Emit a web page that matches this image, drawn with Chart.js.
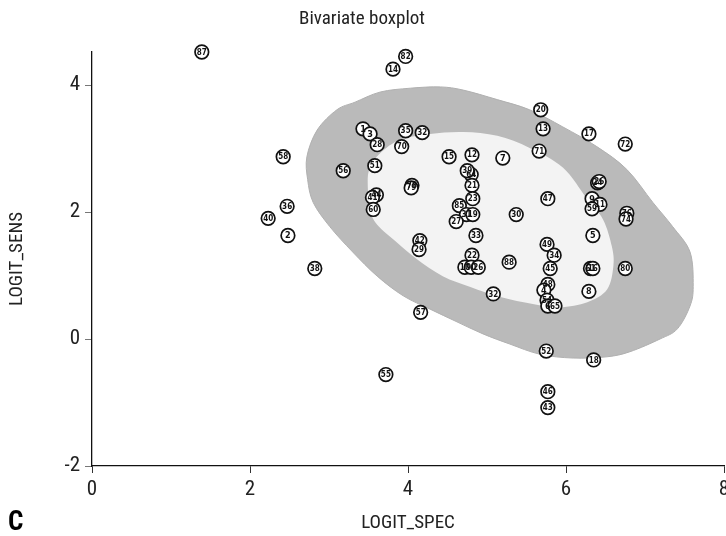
<!DOCTYPE html>
<html><head><meta charset="utf-8">
<script src="https://cdn.jsdelivr.net/npm/chart.js@4"></script>
<style>html,body{margin:0;padding:0;overflow:hidden;background:#fff;width:726px;height:536px}canvas{display:block}</style>
</head><body><canvas id="c" width="740" height="536"></canvas>
<script>
// Observation ids (marker labels)
const pointIds = ["87","82","14","1","3","35","32","28","70","58","56","51","15","12","7","20","13","71","17","72","64","39","21","78","79","44","41","60","23","47","24","26","9","11","59","76","74","85","31","19","27","30","36","40","2","38","42","29","33","5","49","34","22","10","90","26","88","45","61","16","80","48","4","8","32","54","6","65","57","52","18","55","46","43"];
// LOGIT_SPEC (x)
const logitSpec = [1.39,3.97,3.81,3.43,3.52,3.97,4.18,3.61,3.92,2.42,3.18,3.58,4.52,4.81,5.20,5.68,5.71,5.66,6.29,6.75,4.80,4.75,4.81,4.05,4.04,3.60,3.55,3.56,4.82,5.77,6.40,6.42,6.33,6.43,6.33,6.77,6.76,4.65,4.74,4.82,4.61,5.37,2.47,2.23,2.48,2.82,4.15,4.14,4.86,6.34,5.76,5.85,4.81,4.72,4.80,4.89,5.28,5.80,6.31,6.34,6.75,5.77,5.72,6.29,5.08,5.76,5.77,5.86,4.16,5.75,6.35,3.72,5.77,5.77];
// LOGIT_SENS (y)
const logitSens = [4.52,4.45,4.25,3.31,3.23,3.28,3.25,3.06,3.03,2.87,2.65,2.73,2.87,2.90,2.85,3.61,3.31,2.96,3.23,3.07,2.59,2.65,2.42,2.42,2.38,2.27,2.23,2.04,2.21,2.21,2.46,2.48,2.21,2.12,2.05,1.98,1.89,2.10,1.96,1.96,1.85,1.96,2.09,1.90,1.63,1.11,1.55,1.41,1.63,1.63,1.49,1.32,1.32,1.13,1.13,1.13,1.21,1.11,1.11,1.11,1.11,0.86,0.77,0.75,0.71,0.61,0.52,0.52,0.42,-0.19,-0.33,-0.56,-0.83,-1.08];
// Outer (fence) contour of the bivariate boxplot
const outerSpec = [2.72,2.73,2.80,3.01,3.30,3.61,3.94,4.28,4.62,4.95,5.29,5.67,6.09,6.52,6.81,7.19,7.41,7.57,7.61,7.57,7.35,7.10,6.77,6.39,5.96,5.54,5.13,4.70,4.41,4.03,3.65,3.33,3.10,2.85];
const outerSens = [2.87,2.51,2.15,1.77,1.37,0.99,0.68,0.47,0.27,0.08,-0.08,-0.24,-0.30,-0.28,-0.20,0.00,0.16,0.52,0.83,1.37,1.77,2.15,2.67,3.03,3.34,3.61,3.77,3.92,3.97,3.95,3.89,3.73,3.61,3.29];
// Inner (hinge) contour
const innerSpec = [3.49,3.52,3.61,3.86,4.11,4.44,4.79,5.17,5.58,5.92,6.27,6.52,6.60,6.58,6.47,6.27,5.96,5.54,5.13,4.70,4.28,3.90,3.65,3.52];
const innerSens = [2.46,2.04,1.80,1.52,1.26,0.99,0.82,0.66,0.55,0.50,0.58,0.78,1.15,1.46,1.88,2.20,2.70,3.01,3.20,3.26,3.23,3.14,2.93,2.70];
const xTicks = [0,2,4,6,8];
const yTicks = [-2,0,2,4];

const FONT = "'Liberation Sans Narrow','Roboto Condensed','DejaVu Sans Condensed',sans-serif";

function smoothClosed(ctx, pts){
  const n = pts.length;
  ctx.beginPath();
  ctx.moveTo(pts[0][0], pts[0][1]);
  for(let i=0;i<n;i++){
    const p0=pts[(i-1+n)%n], p1=pts[i], p2=pts[(i+1)%n], p3=pts[(i+2)%n];
    const c1x=p1[0]+(p2[0]-p0[0])/6, c1y=p1[1]+(p2[1]-p0[1])/6;
    const c2x=p2[0]-(p3[0]-p1[0])/6, c2y=p2[1]-(p3[1]-p1[1])/6;
    ctx.bezierCurveTo(c1x,c1y,c2x,c2y,p2[0],p2[1]);
  }
  ctx.closePath();
}

const regionPlugin = {
  id:'regions',
  beforeDatasetsDraw(chart){
    const {ctx, scales:{x,y}} = chart;
    const toPx = (xs,ys)=>xs.map((v,i)=>[x.getPixelForValue(v), y.getPixelForValue(ys[i])]);
    ctx.save();
    smoothClosed(ctx, toPx(outerSpec, outerSens));
    ctx.fillStyle='#bababa'; ctx.fill();
    ctx.strokeStyle='#b0b0b0'; ctx.lineWidth=1; ctx.stroke();
    smoothClosed(ctx, toPx(innerSpec, innerSens));
    ctx.fillStyle='#f3f3f3'; ctx.fill();
    ctx.restore();
  }
};

const labelPlugin = {
  id:'ptlabels',
  afterDatasetsDraw(chart){
    const {ctx} = chart;
    const meta = chart.getDatasetMeta(0);
    ctx.save();
    ctx.fillStyle='#111';
    ctx.textAlign='center'; ctx.textBaseline='middle';
    meta.data.forEach((el,i)=>{
      const t = pointIds[i];
      ctx.font = (t.length>1?'bold 8px ':'bold 9px ')+"'DejaVu Sans Condensed',sans-serif";
      ctx.fillText(t, el.x, el.y+0.5);
    });
    // panel letter
    ctx.font = "bold 27px "+FONT;
    ctx.textAlign='left'; ctx.textBaseline='middle';
    ctx.fillStyle='#000';
    ctx.fillText('C', 8, 523);
    ctx.restore();
  }
};

new Chart(document.getElementById('c'), {
  type:'scatter',
  data:{datasets:[{
    data: logitSpec.map((v,i)=>({x:v, y:logitSens[i]})),
    clip:false,
    pointRadius:6.8,
    pointHoverRadius:6.8,
    pointBackgroundColor:'#ffffff',
    pointBorderColor:'#111111',
    pointBorderWidth:1.7
  }]},
  options:{
    responsive:false,
    animation:false,
    events:[],
    layout:{padding:{left:0,right:16,top:0,bottom:0}},
    plugins:{
      legend:{display:false},
      tooltip:{enabled:false},
      title:{display:true,text:'Bivariate boxplot',color:'#222',
        font:{family:FONT,size:19,weight:'normal',lineHeight:1.2},
        padding:{top:8,bottom:21.2}}
    },
    scales:{
      x:{type:'linear',min:0,max:8,
        afterBuildTicks(s){ s.ticks = xTicks.map(v=>({value:v})); },
        afterFit(s){ s.height = 70; },
        border:{color:'#111',width:1.3},
        grid:{drawOnChartArea:false,tickLength:7,color:'#333',lineWidth:1},
        ticks:{color:'#222',padding:4,font:{family:FONT,size:21}},
        title:{display:true,text:'LOGIT_SPEC',color:'#222',font:{family:FONT,size:19,lineHeight:1.2},padding:{top:0,bottom:1}}
      },
      y:{type:'linear',min:-2,max:4.52,
        afterBuildTicks(s){ s.ticks = yTicks.map(v=>({value:v})); },
        afterFit(s){ s.width = 92; },
        border:{color:'#111',width:1.3},
        grid:{drawOnChartArea:false,tickLength:7,color:'#777',lineWidth:1},
        ticks:{color:'#222',padding:5,font:{family:FONT,size:21}},
        title:{display:true,text:'LOGIT_SENS',color:'#222',font:{family:FONT,size:19,lineHeight:1.2},padding:{top:6,bottom:0}}
      }
    }
  },
  plugins:[regionPlugin,labelPlugin]
});
</script>
</body></html>
